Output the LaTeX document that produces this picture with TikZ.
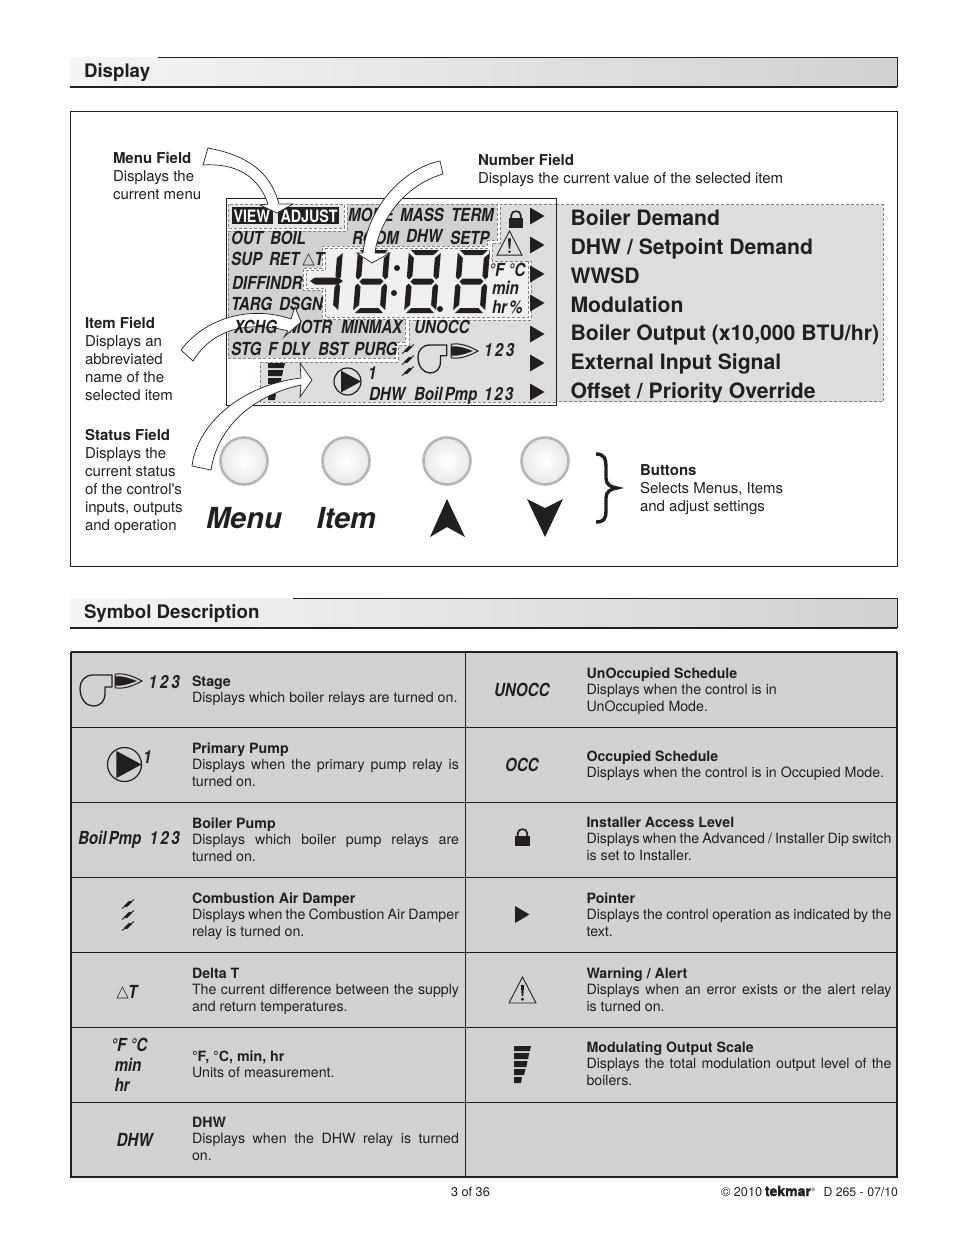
\documentclass[tikz,border=0pt]{standalone}
\usepackage{fontspec}
\setmainfont{TeX Gyre Heros}
\newfontfamily\lcdfam[FakeStretch=0.84]{TeX Gyre Heros}
\newfontfamily\tekfam[FakeBold=1.6]{TeX Gyre Heros}
\newfontfamily\plainq{TeX Gyre Heros}
\usetikzlibrary{shadings}
\definecolor{lcdlight}{HTML}{DCDDDE}
\definecolor{itemgray}{HTML}{CFD1D3}
\definecolor{numlight}{HTML}{EFEFEF}
\definecolor{menulight}{HTML}{E6E6E7}
\definecolor{ink}{HTML}{231F20}
\definecolor{dashgray}{HTML}{808285}
\definecolor{ringgray}{HTML}{B4B6B8}
\newlength\jw
\newcommand\jl[1]{\hbox{\makebox[\jw][s]{#1}}}
\newcommand\pl[1]{\hbox{#1}}
% plain text block: name, x, first baseline, lines
\newcommand\blk[4]{\node[txt] (#1) at (#2,#3) {\fontsize{15}{18}\selectfont\vtop{\baselineskip=18.1pt\lineskiplimit=-10pt #4}};}
% table description: name, x, baseline, width, title, lines
\newcommand\dsc[6]{\setlength\jw{#4pt}\node[txt] (#1) at (#2,#3) {\fontsize{14.2}{16.9}\selectfont\vtop{\baselineskip=16.9pt\lineskiplimit=-10pt \pl{\bfseries #5}#6}};}
% LCD lettering: name, x, baseline, text
\newcommand\lc[4]{\node[txt] (#1) at (#2,#3) {\fontsize{18}{18}\selectfont\lcdfam\bfseries\itshape #4};}
\newcommand\rl[3]{\node[txt] (#1) at (570.5,#2) {\fontsize{21.2}{24}\selectfont\bfseries #3};}
\newcommand\ptr[2]{\fill[ink] (#1,#2-8.5) -- (#1+14.5,#2) -- (#1,#2+8.5) -- cycle;}
\newcommand\lockicon[3]{\begin{scope}[shift={(#1,#2)},scale=#3]
 \fill[ink] (-7.2,0) rectangle (7.2,9.5);
 \draw[ink,line width=1.7] (-4.8,0.5) -- (-4.8,-2.5) .. controls (-4.8,-8.3) and (4.8,-8.3) .. (4.8,-2.5) -- (4.8,0.5);
\end{scope}}
\newcommand\warnicon[3]{\begin{scope}[shift={(#1,#2)},scale=#3]
 \draw[ink,line width=0.9,line join=miter] (0,0) -- (13.5,26) -- (-13.5,26) -- cycle;
 \fill[ink] (-1.6,8) -- (1.6,8) -- (0.8,19) -- (-0.8,19) -- cycle;
 \fill[ink] (0,22.3) circle (1.6);
\end{scope}}
\newcommand\modbars[2]{\begin{scope}[shift={(#1,#2)}]
 \fill[ink] (0,0) -- (17,0) -- (15.8,5) -- (0,5) -- cycle;
 \fill[ink] (0,7) -- (15.3,7) -- (14,13) -- (0,13) -- cycle;
 \fill[ink] (0,15) -- (13.5,15) -- (12.3,21) -- (0,21) -- cycle;
 \fill[ink] (0,23) -- (11.5,23) -- (10,29) -- (0,29) -- cycle;
 \fill[ink] (0,31) -- (8,31) -- (7,37) -- (0,37) -- cycle;
\end{scope}}
\newcommand\pumpicon[3]{\draw[ink,line width=1.2] (#1,#2) circle (#3);
 \fill[ink] (#1-0.48*#3,#2-0.8*#3) -- (#1+#3,#2) -- (#1-0.48*#3,#2+0.8*#3) -- cycle;}
\newcommand\fanicon[3]{\begin{scope}[shift={(#1,#2)},scale=#3]
 \draw[ink,line width=1.3,line join=round] (32,0) -- (13,0) .. controls (5,0) and (0,6) .. (0,13) .. controls (0,24) and (6,31) .. (13,31) .. controls (21,31) and (25,26) .. (25,18) -- (25,12) -- (32,12) -- cycle;
\end{scope}}
\newcommand\flameicon[3]{\begin{scope}[shift={(#1,#2)},scale=#3]
 \draw[ink,line width=1] (1,0.8) .. controls (10,-1) and (20,3) .. (28,7.5) .. controls (20,12) and (10,16) .. (1,14.2) -- cycle;
 \fill[ink] (1,3) .. controls (9,2) and (16,5) .. (23,7.5) .. controls (16,10) and (9,13) .. (1,12) -- cycle;
\end{scope}}
\newcommand\dampone[2]{\draw[ink,line width=0.9] (#1-6,#2+4.5) -- (#1+6,#2-4.5);
 \fill[ink] (#1-4.2,#2+2.2) -- (#1+1,#2-3.2) -- (#1+4.2,#2-2.2) -- (#1-1,#2+3.2) -- cycle;}
\newcommand\dampicon[2]{\dampone{#1}{#2-11}\dampone{#1}{#2}\dampone{#1}{#2+11}}
\newcommand\deltaicon[3]{\draw[ink,line width=0.6,line join=miter] (#1,#2) -- (#1+#3,#2) -- (#1+0.5*#3,#2-#3) -- cycle;}
% seven segment digit
\newcommand\sevenseg[2]{\begin{scope}[shift={(#1,#2)},xslant=0.08]
 \fill[ink] (2,0) -- (30,0) -- (25,5) -- (7,5) -- cycle;
 \fill[ink] (7,28.5) -- (25,28.5) -- (28,31.5) -- (25,34.5) -- (7,34.5) -- (4,31.5) -- cycle;
 \fill[ink] (7,58) -- (25,58) -- (30,63) -- (2,63) -- cycle;
 \fill[ink] (0,3) -- (5.5,8) -- (5.5,26) -- (2.5,29.5) -- (0,27) -- cycle;
 \fill[ink] (0,36) -- (2.5,33.5) -- (5.5,37) -- (5.5,55) -- (0,60) -- cycle;
 \fill[ink] (32,3) -- (26.5,8) -- (26.5,26) -- (29.5,29.5) -- (32,27) -- cycle;
 \fill[ink] (32,36) -- (29.5,33.5) -- (26.5,37) -- (26.5,55) -- (32,60) -- cycle;
\end{scope}}
\newcommand\oneseg[2]{\begin{scope}[shift={(#1,#2)},xslant=0.08]
 \fill[ink] (7,3) -- (1.5,8) -- (1.5,26) -- (4.5,29.5) -- (7,27) -- cycle;
 \fill[ink] (7,36) -- (4.5,33.5) -- (1.5,37) -- (1.5,55) -- (7,60) -- cycle;
\end{scope}}
\tikzset{
 txt/.style={anchor=base west,inner sep=0pt,outer sep=0pt,text=ink},
 lcdzone/.style={draw=dashgray,densely dashed,line width=0.5},
 hollowarrow/.style={draw=ink,fill=white,line width=0.7,line join=miter},
 rule/.style={draw=ink,line width=1},
 heavyrule/.style={draw=ink,line width=1.6},
 panelbtn/.style={circle,minimum size=47,inner sep=0,draw=ringgray,line width=2.6,inner color=white,outer color=black!9},
}
\begin{document}
\begin{tikzpicture}[x=1pt,y=-1pt]
\useasboundingbox (0,0) rectangle (954,1235);
\fill[white] (0,0) rectangle (954,1235);
% section bars
\shade[left color=black!4,right color=itemgray] (70,57) rectangle (897,87);
\draw[rule] (158,57) -- (897,57) -- (897,87);
\draw[heavyrule] (70,87) -- (897,87);
\node[txt] (hdisplay) at (84,77) {\fontsize{18.7}{20}\selectfont\bfseries Display};
\shade[left color=black!4,right color=itemgray] (70,598) rectangle (897,628);
\draw[rule] (293,598) -- (897,598) -- (897,628);
\draw[heavyrule] (70,628) -- (897,628);
\node[txt] (hsymbol) at (84,618) {\fontsize{18.7}{20}\selectfont\bfseries Symbol Description};
% display frame
\draw[rule] (70.5,111.5) rectangle (897,566);
% right hand list panel and LCD
\fill[lcdlight] (556,204.5) rectangle (883,401.5);
\draw[lcdzone] (556,204.5) -- (883,204.5) -- (883,401.5) -- (556,401.5);
\fill[white] (226,198) rectangle (556,405);
\filldraw[lcdzone,fill=itemgray] (228,231) -- (347,231) -- (347,204) -- (497,204) -- (497,240.5) -- (487,240.5) -- (487,246) -- (322,246) -- (322,268) -- (303,268) -- (303,290) -- (322,290) -- (322,319.5) -- (405,319.5) -- (405,342) -- (395,342) -- (395,358) -- (228,358) -- cycle;
\filldraw[lcdzone,fill=menulight] (228,204) rectangle (344,228);
\filldraw[lcdzone,fill=numlight] (325,248.5) -- (489,248.5) -- (489,258) -- (528,258) -- (528,317) -- (325,317) -- (325,288) -- (306,288) -- (306,270.5) -- (325,270.5) -- cycle;
\filldraw[lcdzone,fill=lcdlight] (260,362) -- (398,362) -- (398,345.5) -- (409,345.5) -- (409,320) -- (531,320) -- (531,261) -- (492,261) -- (492,243) -- (500,243) -- (500,204) -- (556,204) -- (556,402) -- (260,402) -- cycle;
\draw[ink,line width=1] (226,198) rectangle (556,405);
% menu field lettering
\fill[ink] (232,207) rectangle (273,224);
\fill[ink] (278,207) rectangle (339,224);
\node[txt,text=white] (view) at (233.5,222) {\fontsize{17}{17}\selectfont\lcdfam\bfseries VIEW};
\node[txt,text=white] (adjust) at (280.5,222) {\fontsize{17}{17}\selectfont\lcdfam\bfseries ADJUST};
\lc{mode}{348}{221.5}{MODE}
\lc{mass}{400}{221.5}{MASS}
\lc{term}{451}{221.5}{TERM}
\lc{outt}{231}{244.5}{OUT}
\lc{boil}{270}{244.5}{BOIL}
\lc{room}{352}{244.5}{ROOM}
\lc{dhwa}{406}{242.5}{DHW}
\lc{setp}{450}{244.5}{SETP}
\lc{sup}{231}{265.5}{SUP}
\lc{ret}{269}{265.5}{RET}
\deltaicon{303}{265}{11}
\lc{dtt}{314.5}{265.5}{T}
\lc{diffindr}{232}{289.5}{DIFFINDR}
\lc{targ}{231}{310.5}{TARG}
\lc{dsgn}{279}{310.5}{DSGN}
\lc{motr}{288}{333.5}{MOTR}
\lc{minmax}{341}{333.5}{MINMAX}
\lc{unocc}{414}{333.5}{UNOCC}
\lc{stg}{231}{355.5}{STG}
\lc{ff}{268}{355.5}{F}
\lc{dly}{281}{355.5}{DLY}
\lc{bst}{318}{355.5}{BST}
\lc{purg}{354}{355.5}{PURG}
\lc{one}{368}{379}{1}
\lc{dhwb}{369}{400}{DHW}
\lc{boilpmp}{414}{400}{Boil\hspace{2pt}Pmp}
\lc{onetwothree}{484}{400}{1\hspace{2pt}2\hspace{2pt}3}
\lc{stages}{484}{356.5}{1\hspace{2.5pt}2\hspace{2.5pt}3}
\lc{degs}{489}{276}{°F\hspace{4pt}°C}
\lc{min}{492}{294}{min}
\lc{hr}{492}{313}{hr\hspace{2pt}\%}
% number field
\fill[ink] (310,281) -- (315,277.5) -- (338,277.5) -- (343,281) -- (338,284.5) -- (315,284.5) -- cycle;
\oneseg{336}{250}
\sevenseg{358}{250}
\sevenseg{409}{250}
\sevenseg{458}{250}
\fill[ink] (397,268) circle (3);
\fill[ink] (394,293) circle (3);
\fill[ink] (440,309) circle (3);
% LCD symbols
\lockicon{516}{218}{1}
\warnicon{509.5}{231}{0.93}
\modbars{268}{363}
\pumpicon{347.5}{381.5}{13.5}
\fanicon{418}{345}{0.9}
\flameicon{450}{343.5}{1}
\dampicon{408}{360}
\foreach \py in {216,245,274,303,334,363,392} {\ptr{530}{\py}}
% list
\rl{l1}{225}{Boiler Demand}
\rl{l2}{254}{DHW / Setpoint Demand}
\rl{l3}{283}{WWSD}
\rl{l4}{312}{Modulation}
\rl{l5}{340.5}{Boiler Output (x10,000 BTU/hr)}
\rl{l6}{369.5}{External Input Signal}
\rl{l7}{398.5}{Offset / Priority Override}
% field labels
\blk{menufield}{113}{163}{\pl{\bfseries Menu Field}\pl{Displays the}\pl{current menu}}
\blk{numberfield}{478}{165}{\pl{\bfseries Number Field}\pl{Displays the current value of the selected item}}
\blk{itemfield}{85}{328}{\pl{\bfseries Item Field}\pl{Displays an}\pl{abbreviated}\pl{name of the}\pl{selected item}}
\blk{statusfield}{85}{440}{\pl{\bfseries Status Field}\pl{Displays the}\pl{current status}\pl{of the control{\plainq 's}}\pl{inputs, outputs}\pl{and operation}}
\blk{buttonsfield}{640}{475}{\pl{\bfseries Buttons}\pl{Selects Menus, Items}\pl{and adjust settings}}
% hollow arrows
\draw[hollowarrow] (208,148) .. controls (245,155) and (270,170) .. (279,204) -- (293,204) -- (277,213) -- (260,205) -- (268,204) .. controls (258,175) and (235,163) .. (203,165) -- cycle;
\draw[hollowarrow] (440,161) .. controls (405,168) and (368,205) .. (363,253) -- (357,253) -- (372,263) -- (390,253) -- (375,253) .. controls (379,220) and (405,185) .. (443,174) -- cycle;
\draw[hollowarrow] (181,350) .. controls (205,318) and (250,305) .. (291,319) -- (295,307) -- (301,322) -- (284,337) -- (288,331) .. controls (255,322) and (215,325) .. (193,361) -- cycle;
\lc{xchg}{234}{333.5}{XCHG}
\draw[hollowarrow] (192,466) .. controls (197,425) and (240,385) .. (301,378) -- (300,363) -- (312,380) -- (300,397) -- (301,385) .. controls (255,395) and (218,425) .. (211,470) -- cycle;
% buttons
\node[panelbtn] (bmenu) at (244,461) {};
\node[panelbtn] (bitem) at (346,461) {};
\node[panelbtn] (bup) at (447,461) {};
\node[panelbtn] (bdown) at (545,461) {};
\node[txt] (lmenu) at (206,528) {\fontsize{29}{30}\selectfont\bfseries\itshape Menu};
\node[txt] (litem) at (316.5,528) {\fontsize{29}{30}\selectfont\bfseries\itshape Item};
\fill[ink] (447,499) -- (465,537) -- (447,527) -- (430,537) -- cycle;
\fill[ink] (527,499) -- (545,508) -- (563,499) -- (545,537) -- cycle;
\draw[ink,line width=3.4] (596,454) .. controls (604,454) and (606,458) .. (606,468) -- (606,478) .. controls (606,484) and (610,487) .. (617,488) .. controls (610,489) and (606,492) .. (606,498) -- (606,510) .. controls (606,519) and (604,522) .. (596,522);
% symbol table
\fill[itemgray] (71,652) rectangle (897,1177);
\foreach \ry in {727.5,802.5,877.5,952.5,1027.5,1102.5} {\draw[rule] (71,\ry) -- (897,\ry);}
\draw[rule] (465.5,652) -- (465.5,1177);
\draw[rule,line width=1.3] (71,652) -- (897,652);
\draw[heavyrule] (71,652) -- (71,1177) -- (897,1177) -- (897,652);
% left symbols
\fanicon{80}{675}{1}
\flameicon{114}{673.5}{1}
\lc{t123}{148.5}{688}{1\hspace{3pt}2\hspace{3pt}3}
\pumpicon{124.5}{764.5}{17}
\lc{tone}{143}{763}{1}
\lc{tboil}{78}{844.5}{Boil\hspace{2pt}Pmp}
\lc{t123b}{149.5}{844.5}{1\hspace{2.5pt}2\hspace{2.5pt}3}
\dampicon{128}{915}
\deltaicon{117}{998}{11}
\lc{tdelta}{128}{998}{T}
\lc{tdeg}{111}{1051}{°F\hspace{4pt}°C}
\lc{tmin}{114.5}{1071}{min}
\lc{thr}{114.5}{1091}{hr}
\lc{tdhw}{116.5}{1146}{DHW}
% right symbols
\lc{tunocc}{494}{696}{UNOCC}
\lc{tocc}{505}{771}{OCC}
\lockicon{522.5}{836}{1}
\ptr{515}{914.5}
\warnicon{522.5}{977}{1}
\modbars{514}{1046}
% left descriptions
\dsc{dstage}{192}{686}{267}{Stage}{\pl{Displays which boiler relays are turned on.}}
\dsc{dprim}{192}{753}{267}{Primary Pump}{\jl{Displays when the primary pump relay is}\pl{turned on.}}
\dsc{dboil}{192}{828}{267}{Boiler Pump}{\jl{Displays which boiler pump relays are}\pl{turned on.}}
\dsc{dcomb}{192}{903}{267}{Combustion Air Damper}{\jl{Displays when the Combustion Air Damper}\pl{relay is turned on.}}
\dsc{ddelta}{192}{978}{267}{Delta T}{\jl{The current difference between the supply}\pl{and return temperatures.}}
\dsc{dunits}{192}{1061}{267}{°F, °C, min, hr}{\pl{Units of measurement.}}
\dsc{ddhw}{192}{1127}{267}{DHW}{\jl{Displays when the DHW relay is turned}\pl{on.}}
% right descriptions
\dsc{dunocc}{586.5}{678}{305}{UnOccupied Schedule}{\pl{Displays when the control is in}\pl{UnOccupied Mode.}}
\dsc{docc}{586.5}{761}{305}{Occupied Schedule}{\pl{Displays when the control is in Occupied Mode.}}
\dsc{dinst}{586.5}{827}{305}{Installer Access Level}{\jl{Displays when the Advanced / Installer Dip switch}\pl{is set to Installer.}}
\dsc{dptr}{586.5}{903}{305}{Pointer}{\jl{Displays the control operation as indicated by the}\pl{text.}}
\dsc{dwarn}{586.5}{978}{305}{Warning / Alert}{\jl{Displays when an error exists or the alert relay}\pl{is turned on.}}
\dsc{dmod}{586.5}{1052}{305}{Modulating Output Scale}{\jl{Displays the total modulation output level of the}\pl{boilers.}}
% footer
\node[txt] (fpage) at (451,1196) {\fontsize{12.7}{14}\selectfont 3 of 36};
\node[txt] (fcopy) at (721,1196) {\fontsize{12.7}{14}\selectfont © 2010};
\node[txt] (ftek) at (765,1196) {\fontsize{14}{14}\selectfont\tekfam\bfseries tekmar};
\node[txt] (freg) at (811.5,1191) {\fontsize{5}{6}\selectfont ®};
\node[txt] (fdoc) at (823.5,1196) {\fontsize{12.3}{14}\selectfont D 265 - 07/10};
\end{tikzpicture}
\end{document}
